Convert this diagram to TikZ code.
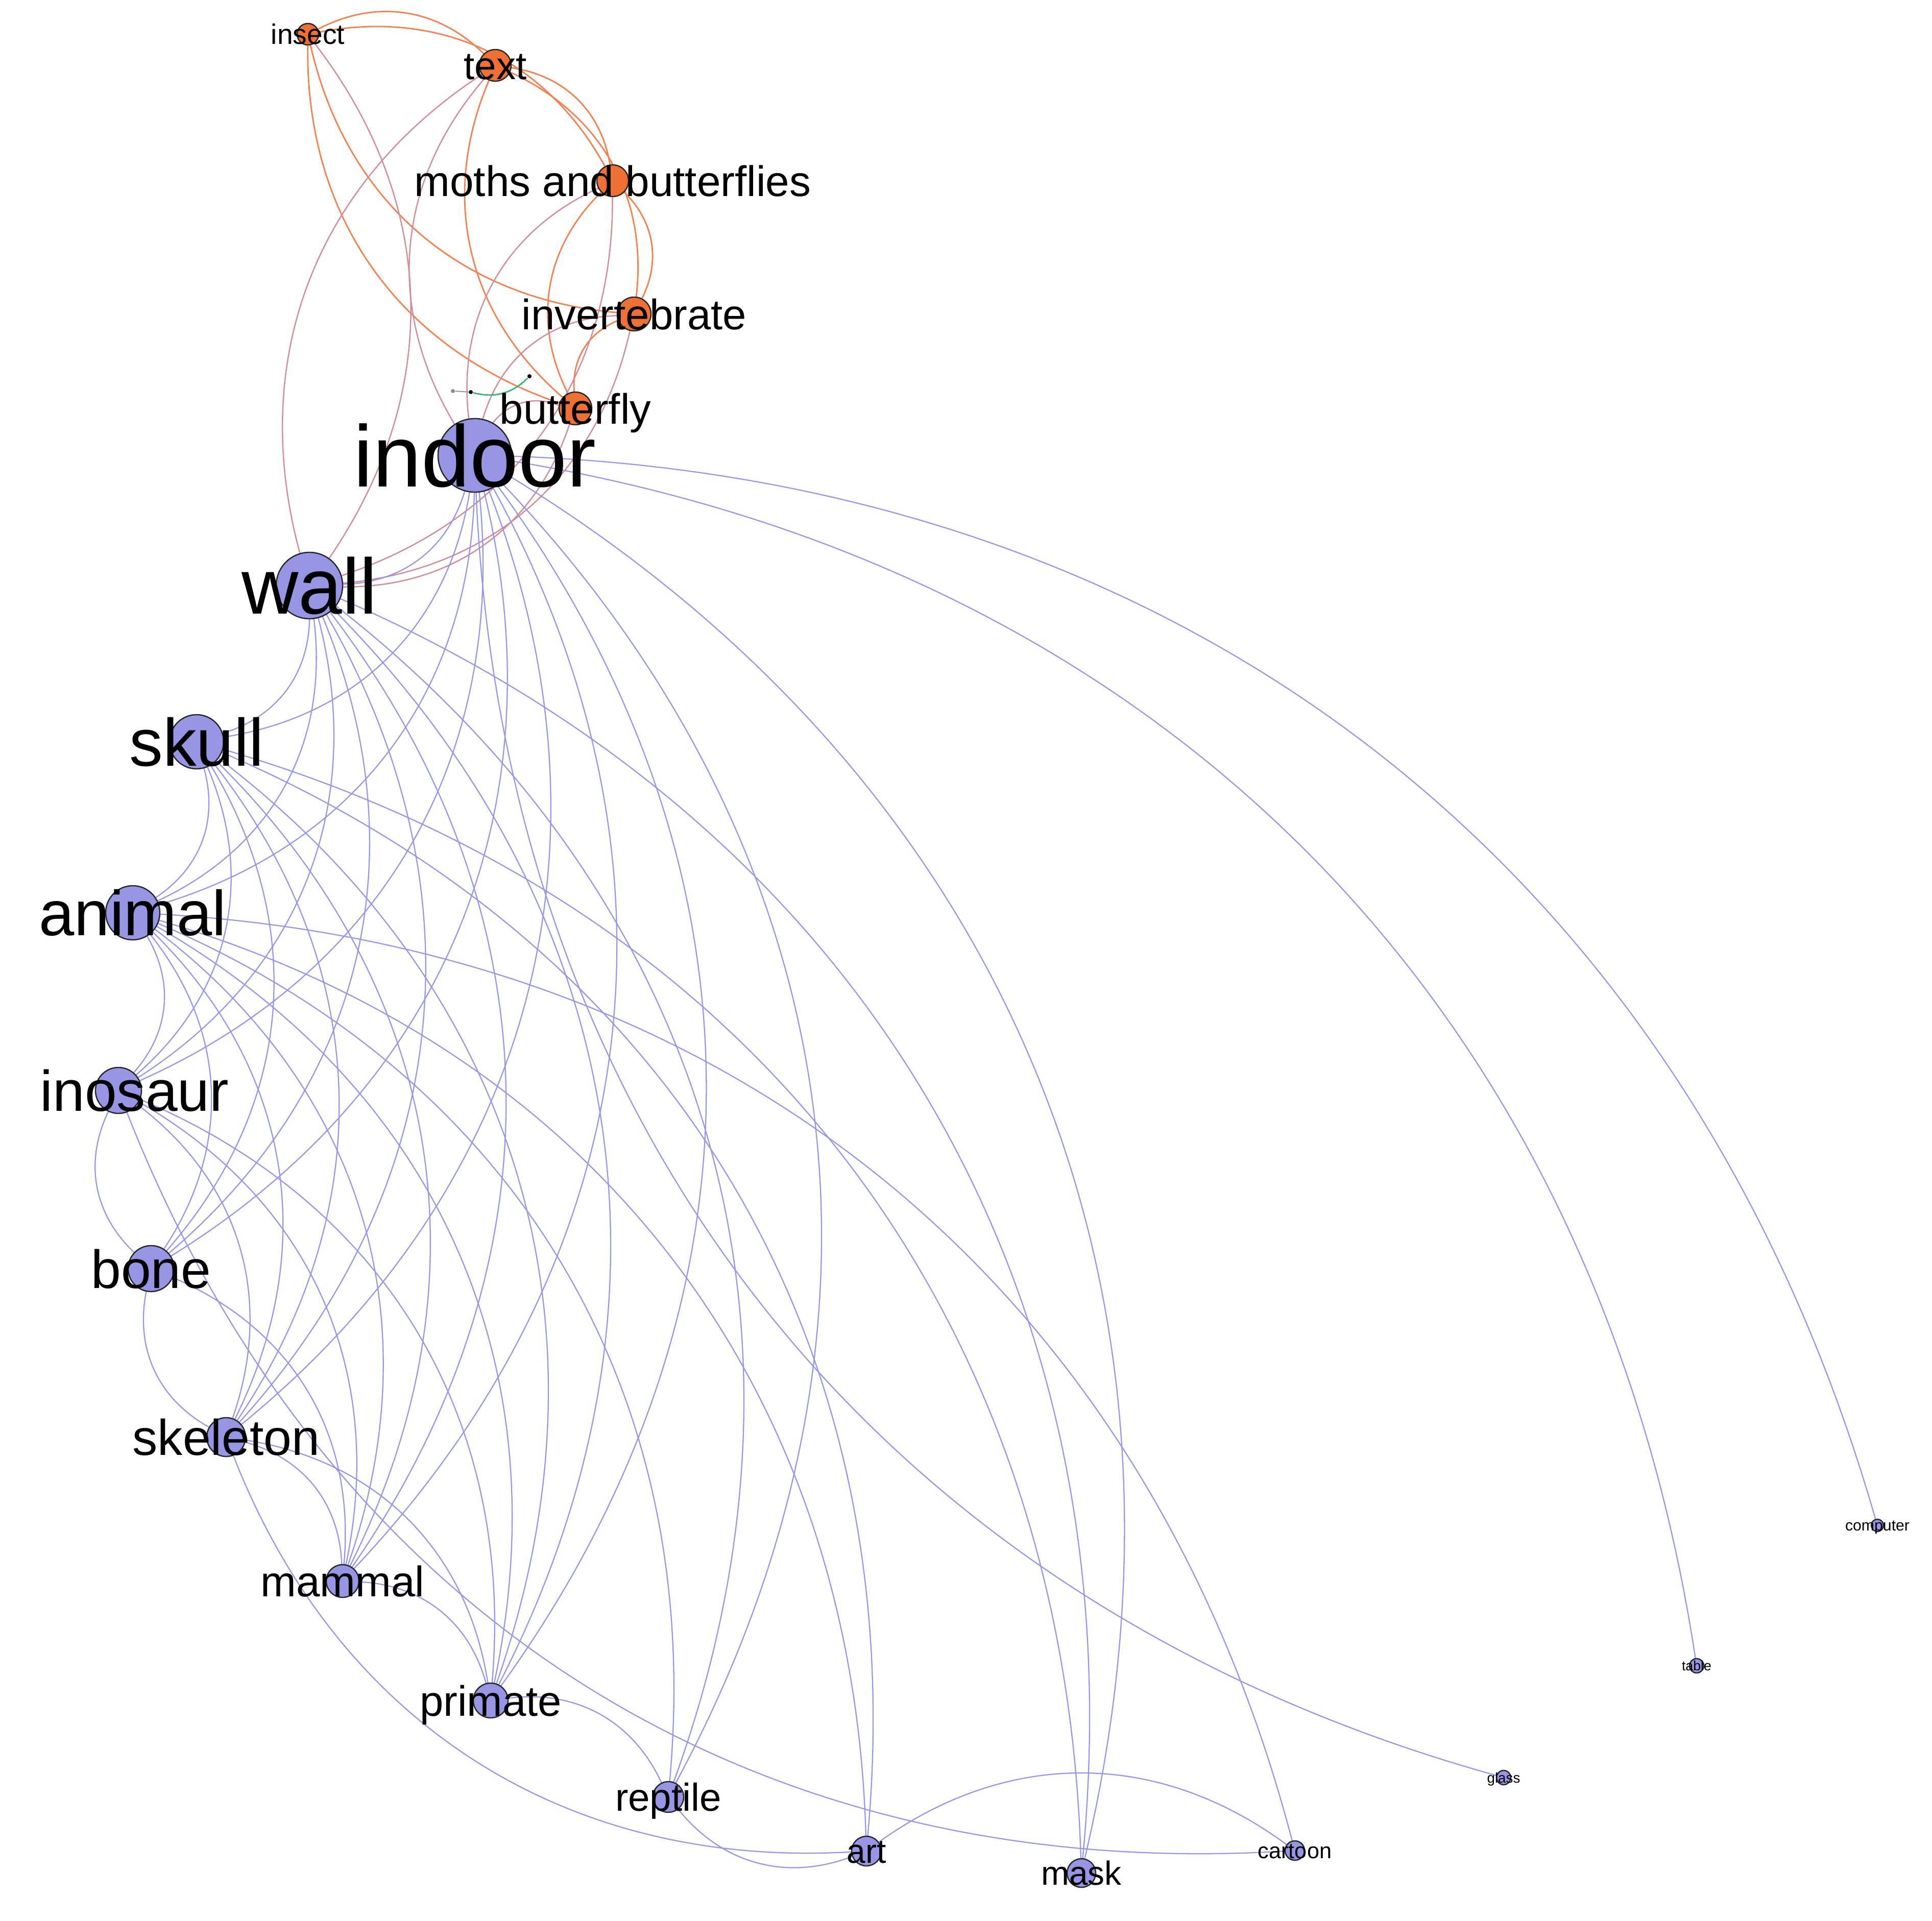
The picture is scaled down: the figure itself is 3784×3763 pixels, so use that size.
\documentclass[tikz,border=0pt]{standalone}
\usepackage{fontspec}
\setmainfont{Liberation Sans}
\definecolor{nodeblue}{RGB}{150,150,228}
\definecolor{nodeorange}{RGB}{238,112,52}
\definecolor{edgeblue}{RGB}{150,150,238}
\definecolor{edgeorange}{RGB}{245,128,80}
\definecolor{edgepink}{RGB}{212,140,152}
\definecolor{edgegreen}{RGB}{60,180,120}
\pgfdeclarelayer{edges}
\pgfsetlayers{edges,main}
\begin{document}
\begin{tikzpicture}[x=0.01cm,y=-0.01cm,
  vtx/.style={circle,draw=black!85,line width=0.7pt,inner sep=0pt,minimum size=#1},
  bn/.style={vtx=#1,fill=nodeblue},
  on/.style={vtx=#1,fill=nodeorange},
  lab/.style={font=\fontsize{#1}{#1}\selectfont,text height={0.72*#1pt},text depth=0pt,inner sep=0pt,text=black},
  eb/.style={draw=edgeblue,line width=0.65pt},
  eo/.style={draw=edgeorange,line width=0.8pt},
  ep/.style={draw=edgepink,line width=0.7pt},
  bl/.style={bend left=36},
  br/.style={bend right=36},
  dot/.style={circle,fill=black,inner sep=0pt,minimum size=0.08cm}]
\useasboundingbox (0,0) rectangle (3784,3763);
% vertices
\node[on=0.42cm]  (I)  at (603,67) {};
\node[on=0.62cm]  (T)  at (970,128) {};
\node[on=0.62cm]  (M)  at (1200,354) {};
\node[on=0.66cm]  (V)  at (1242,615) {};
\node[on=0.64cm]  (B)  at (1127,800) {};
\node[bn=1.44cm]  (D)  at (930,892) {};
\node[bn=1.30cm]  (W)  at (606,1147) {};
\node[bn=1.06cm]  (S)  at (385,1453) {};
\node[bn=1.06cm]  (A)  at (260,1788) {};
\node[bn=0.90cm]  (N)  at (232,2136) {};
\node[bn=0.90cm]  (O)  at (296,2485) {};
\node[bn=0.76cm]  (K)  at (443,2815) {};
\node[bn=0.64cm]  (L)  at (671,3097) {};
\node[bn=0.68cm]  (P)  at (961,3331) {};
\node[bn=0.60cm]  (R)  at (1309,3520) {};
\node[bn=0.58cm]  (Ar) at (1697,3626) {};
\node[bn=0.56cm]  (Mk) at (2118,3669) {};
\node[bn=0.38cm]  (C)  at (2536,3625) {};
\node[bn=0.28cm]  (G)  at (2945,3482) {};
\node[bn=0.28cm]  (Tb) at (3323,3263) {};
\node[bn=0.24cm]  (Cp) at (3677,2988) {};
% tiny component
\node[dot,fill=black!45] (g1) at (887,766) {};
\node[dot] (g2) at (922,768) {};
\node[dot] (g3) at (1037,737) {};
% labels
\begin{scope}
\clip (76,0) rectangle (3784,3763);
\node[lab=15.7] (Il) at (I) {insect};
\node[lab=21.7] (Tl) at (T) {text};
\node[lab=23.8] (Ml) at (M) {moths and butterflies};
\node[lab=23.7] (Vl) at (V) {invertebrate};
\node[lab=23.7] (Bl) at (B) {butterfly};
\node[lab=48.6] (Dl) at (D) {indoor};
\node[lab=43.8] (Wl) at (W) {wall};
\node[lab=37.4] (Sl) at (S) {skull};
\node[lab=35.4] (Al) at (A) {animal};
\node[lab=32]   (Nl) at (N) {dinosaur};
\node[lab=30]   (Ol) at (O) {bone};
\node[lab=28]   (Kl) at (K) {skeleton};
\node[lab=23.8] (Ll) at (L) {mammal};
\node[lab=23.7] (Pl) at (P) {primate};
\node[lab=21.7] (Rl) at (R) {reptile};
\node[lab=18.8] (Arl) at (Ar) {art};
\node[lab=18.7] (Mkl) at (Mk) {mask};
\node[lab=12.3] (Cl) at (C) {cartoon};
\node[lab=7.9]  (Gl) at (G) {glass};
\node[lab=7.6]  (Tbl) at (Tb) {table};
\node[lab=8.6]  (Cpl) at (Cp) {computer};
\end{scope}
\begin{pgfonlayer}{edges}
% orange cluster
\draw[eo] (I) to[bl] (T);
\draw[eo] (I) to[bl] (M);
\draw[eo] (I) to[br] (V);
\draw[eo] (I) to[br] (B);
\draw[eo] (T) to[bl] (M);
\draw[eo] (T) to[bl] (V);
\draw[eo] (T) to[br] (B);
\draw[eo] (M) to[bl] (V);
\draw[eo] (M) to[br] (B);
\draw[eo] (V) to[br] (B);
% orange-blue
\draw[ep] (I) to[bl] (W);
\draw[ep] (T) to[br] (W);
\draw[ep] (M) to[bl] (W);
\draw[ep] (V) to[bl] (W);
\draw[ep] (B) to[bl] (W);
\draw[ep] (T) to[br] (D);
\draw[ep] (M) to[br] (D);
\draw[ep] (V) to[br] (D);
\draw[ep] (B) to[br] (D);
% green
\draw[draw=black!40,line width=0.6pt] (g1) -- (g2);
\draw[draw=edgegreen,line width=0.8pt] (g2) to[bend right=30] (g3);
% blue
\foreach \b in {W,S,A,N,O,K,L,P,R,Mk,Tb,Cp} \draw[eb] (D) to[bl] (\b);
\draw[eb] (D) to[br] (G);
\foreach \b in {S,A,N,O,K,L,P,R,Mk} \draw[eb] (W) to[bl] (\b);
\foreach \b in {A,N,O,K,L,P,Ar,Mk} \draw[eb] (S) to[bl] (\b);
\foreach \b in {N,O,K,L,P,R,Ar,C} \draw[eb] (A) to[bl] (\b);
\draw[eb] (N) to[br] (O);
\foreach \b in {K,L,P} \draw[eb] (N) to[bl] (\b);
\draw[eb] (N) to[br] (C);
\draw[eb] (O) to[br] (K);
\draw[eb] (O) to[bl] (L);
\foreach \b in {L,P} \draw[eb] (K) to[bl] (\b);
\draw[eb] (K) to[br] (Ar);
\draw[eb] (L) to[bl] (P);
\draw[eb] (P) to[bl] (R);
\draw[eb] (R) to[br] (Ar);
\draw[eb] (Ar) to[bl] (C);
\end{pgfonlayer}
\end{tikzpicture}
\end{document}
